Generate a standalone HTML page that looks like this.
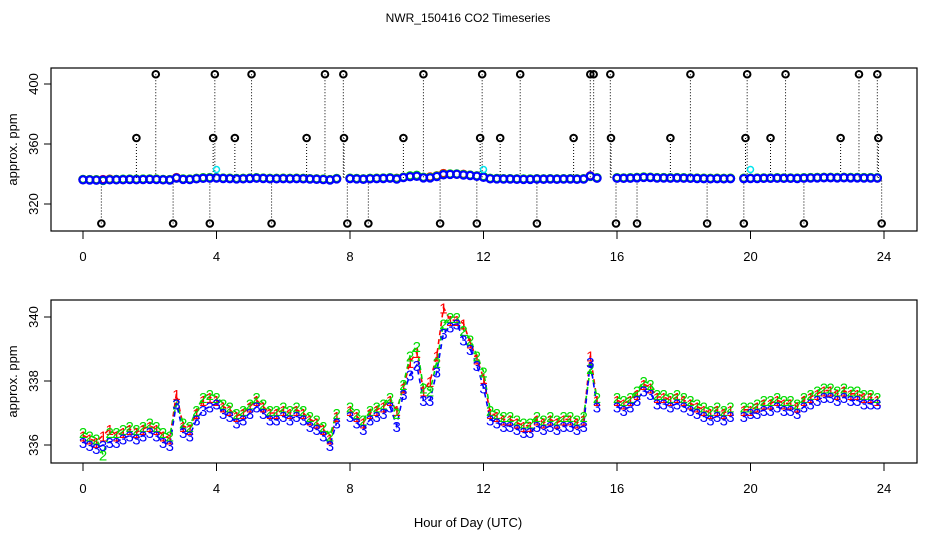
<!DOCTYPE html>
<html><head><meta charset="utf-8"><style>
body{margin:0;background:#fff}
svg{display:block;font-family:"Liberation Sans",sans-serif}
</style></head><body>
<svg id="c" width="936" height="540" viewBox="0 0 936 540">
<rect width="936" height="540" fill="#fff"/>
<text x="468" y="22" font-size="12" text-anchor="middle">NWR_150416  CO2 Timeseries</text>
<text x="468" y="527" font-size="13" text-anchor="middle">Hour of Day (UTC)</text>
<g id="topPanel"></g>
<g id="botPanel"></g>
</svg>
<script>
const hours = [];
for (let i = 0; i < 120; i++) hours.push(+(i * 0.2).toFixed(1));
const series3 = [336.1,336.0,335.9,336.0,336.1,336.1,336.2,336.3,336.2,336.3,336.4,336.3,336.1,336.0,337.3,336.4,336.3,336.8,337.1,337.2,
337.3,337.0,336.9,336.7,336.8,337.0,337.2,337.0,336.8,336.8,336.9,336.8,336.9,336.8,336.6,336.5,336.3,336.0,336.7,null,
336.9,336.7,336.5,336.8,336.9,337.0,337.2,336.6,337.6,338.2,338.5,337.4,337.4,338.3,339.5,339.7,339.8,339.3,339.0,338.5,
337.8,336.8,336.7,336.6,336.6,336.5,336.4,336.4,336.6,336.5,336.6,336.5,336.6,336.6,336.5,336.6,338.6,337.2,null,null,
337.2,337.1,337.2,337.4,337.7,337.6,337.3,337.3,337.2,337.3,337.2,337.1,337.0,336.9,336.8,336.9,336.8,336.9,null,336.9,
337.0,337.0,337.1,337.1,337.2,337.1,337.1,337.0,337.2,337.3,337.4,337.5,337.5,337.4,337.5,337.4,337.4,337.3,337.3,337.3];
const series2 = [336.4,336.3,336.2,335.7,336.4,336.4,336.5,336.6,336.5,336.6,336.7,336.6,336.4,336.3,337.3,336.7,336.6,337.1,337.5,337.6,
337.5,337.3,337.2,337.0,337.1,337.3,337.5,337.3,337.1,337.1,337.2,337.1,337.2,337.1,336.9,336.8,336.6,336.3,337.0,null,
337.2,337.0,336.8,337.1,337.2,337.3,337.5,337.0,337.9,338.8,339.1,337.8,337.7,338.6,339.8,340.0,340.0,339.6,339.3,338.8,
338.3,337.1,337.0,336.9,336.9,336.8,336.7,336.7,336.9,336.8,336.9,336.8,336.9,336.9,336.8,336.9,338.4,337.5,null,null,
337.5,337.4,337.5,337.7,338.0,337.9,337.6,337.6,337.5,337.6,337.5,337.4,337.3,337.2,337.1,337.2,337.1,337.2,null,337.2,
337.2,337.3,337.4,337.4,337.5,337.4,337.4,337.3,337.5,337.6,337.7,337.8,337.8,337.7,337.8,337.7,337.7,337.6,337.6,337.5];
const series1 = [336.3,336.2,336.1,336.3,336.5,336.3,336.4,336.5,336.4,336.5,336.6,336.5,336.3,336.2,337.6,336.6,336.5,337.0,337.4,337.5,
337.4,337.2,337.1,336.9,337.0,337.2,337.4,337.2,337.0,337.0,337.1,337.0,337.1,337.0,336.8,336.7,336.5,336.2,336.9,null,
337.1,336.9,336.7,337.0,337.1,337.2,337.4,337.1,337.8,338.6,338.9,337.7,338.0,338.8,340.3,339.9,339.9,339.8,339.2,338.7,
338.1,337.0,336.9,336.8,336.8,336.7,336.6,336.6,336.8,336.7,336.8,336.7,336.8,336.8,336.7,336.8,338.8,337.4,null,null,
337.4,337.3,337.4,337.6,337.9,337.8,337.5,337.5,337.4,337.5,337.4,337.3,337.2,337.1,337.0,337.1,337.0,337.1,null,337.1,
337.1,337.2,337.3,337.3,337.4,337.3,337.3,337.2,337.4,337.5,337.6,337.7,337.7,337.6,337.7,337.6,337.6,337.5,337.5,337.4];
const outlierHours = [0.55,1.6,2.18,2.7,3.8,3.9,3.95,4.55,5.05,5.65,6.7,7.25,7.8,7.82,7.92,8.55,9.6,10.2,10.7,11.8,11.9,11.96,12.5,13.1,13.6,14.7,15.2,15.3,15.8,15.82,15.97,16.6,17.6,18.2,18.7,19.8,19.85,19.9,20.6,21.05,21.6,22.7,23.25,23.8,23.83,23.93];
const outlierValues = [307,364,406.5,307,307,364,406.5,364,406.5,307,364,406.5,406.5,364,307,307,364,406.5,307,307,364,406.5,364,406.5,307,364,406.5,406.5,406.5,364,307,307,364,406.5,307,307,364,406.5,364,406.5,307,364,406.5,406.5,364,307];
const xTicks = [0,4,8,12,16,20,24];
const topYTicks = [320,360,400];
const botYTicks = [336,338,340];

const NS = "http://www.w3.org/2000/svg";
const X0 = 51, X1 = 917;
const xs = h => 83 + h * (801 / 24);
const yTop = v => 144 - (v - 360) * 1.5;
const yBot = v => 381 - (v - 338) * 32;
function mk(tag, parent, attrs) {
  const e = document.createElementNS(NS, tag);
  for (const k in attrs) e.setAttribute(k, attrs[k]);
  parent.appendChild(e);
  return e;
}
function frame(g, yT, yB, ys, ticks, prefix) {
  const r = mk('rect', g, {x: X0, y: yT, width: X1 - X0, height: yB - yT, fill: 'none', stroke: '#000', 'stroke-width': 1.2});
  
  
  xTicks.forEach(t => {
    const l = mk('line', g, {x1: xs(t), x2: xs(t), y1: yB, y2: yB + 8, stroke: '#000'});
    
    
    const tx = mk('text', g, {x: xs(t), y: yB + 30, 'font-size': 13, 'text-anchor': 'middle'});
    tx.textContent = t;
    
    
  });
  ticks.forEach(t => {
    const l = mk('line', g, {x1: X0 - 7, x2: X0, y1: ys(t), y2: ys(t), stroke: '#000'});
    
    
    const tx = mk('text', g, {x: 0, y: 0, 'font-size': 13, 'text-anchor': 'middle', transform: `translate(38,${ys(t)}) rotate(-90)`});
    tx.textContent = t;
    
    
  });
  const yl = mk('text', g, {x: 0, y: 0, 'font-size': 13, 'text-anchor': 'middle', transform: `translate(17,${(yT + yB) / 2}) rotate(-90)`});
  yl.textContent = 'approx. ppm';
  
  
}
const topG = document.getElementById('topPanel');
const botG = document.getElementById('botPanel');
frame(topG, 68, 231, yTop, topYTicks, 'top');
frame(botG, 300, 463, yBot, botYTicks, 'bottom');

outlierHours.forEach((h, i) => {
  const v = outlierValues[i];
  const l = mk('line', topG, {x1: xs(h), x2: xs(h), y1: yTop(v), y2: yTop(337), stroke: '#000', 'stroke-dasharray': '1,2'});
  
  
  const c = mk('circle', topG, {cx: xs(h), cy: yTop(v), r: 3.3, fill: 'none', stroke: '#000', 'stroke-width': 2});
  
  
});
const colors = {1: '#ff0000', 2: '#00dd00', 3: '#0000ff'};
const all = [[1, series1], [2, series2], [3, series3]];
all.forEach(([k, arr]) => {
  arr.forEach((v, i) => {
    if (v === null) return;
    const c = mk('circle', topG, {cx: xs(hours[i]), cy: yTop(v), r: 3.6, fill: 'none', stroke: colors[k], 'stroke-width': 2.2});
    
    
  });
});
[4, 12, 20].forEach(h => {
  const c = mk('circle', topG, {cx: xs(h), cy: yTop(343), r: 3, fill: 'none', stroke: '#00e5ee', 'stroke-width': 1.5});
  
  
});

all.forEach(([k, arr]) => {
  let d = '', pen = false;
  arr.forEach((v, i) => {
    if (v === null) { pen = false; return; }
    d += (pen ? 'L' : 'M') + xs(hours[i]).toFixed(1) + ' ' + yBot(v).toFixed(1);
    pen = true;
  });
  const p = mk('path', botG, {d: d, fill: 'none', stroke: colors[k], 'stroke-width': 1.6, 'stroke-dasharray': '5,4'});
  
  
});
all.forEach(([k, arr]) => {
  arr.forEach((v, i) => {
    if (v === null) return;
    const t = mk('text', botG, {x: xs(hours[i]), y: yBot(v) + 6, 'font-size': 15, 'text-anchor': 'middle', fill: colors[k]});
    t.textContent = k;
    
    
  });
});
</script>
</body></html>
